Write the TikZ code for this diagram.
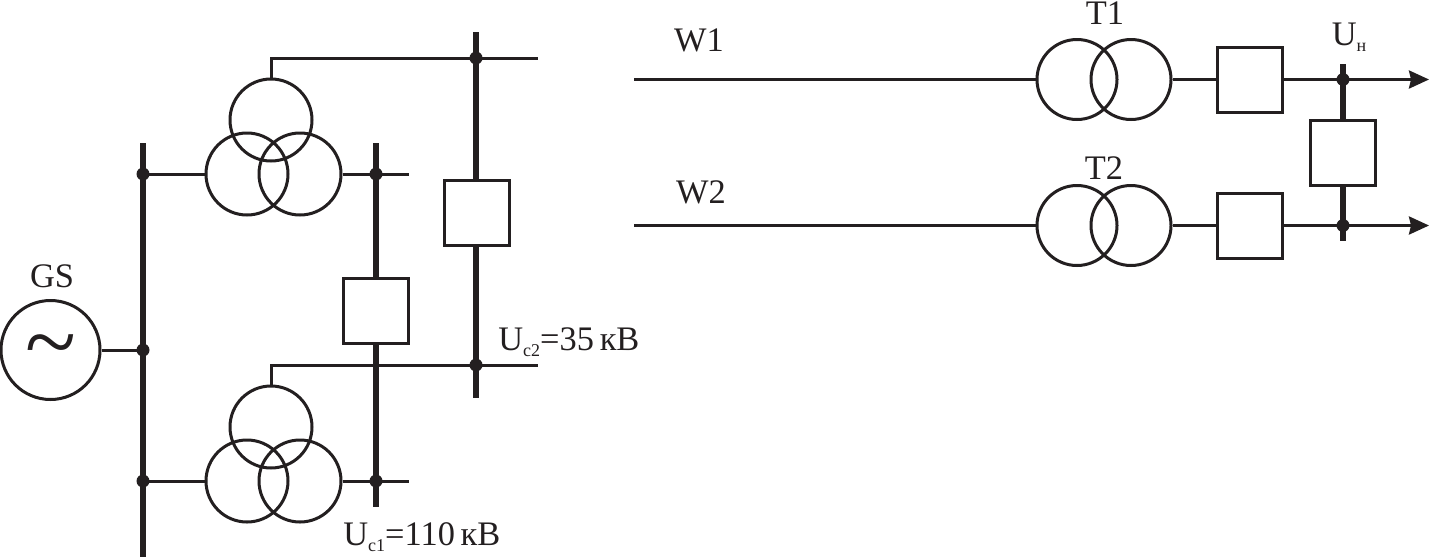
\documentclass[tikz,border=0pt]{standalone}
\usepackage{fontspec}
\setmainfont{Liberation Serif}
\usetikzlibrary{arrows.meta}
\definecolor{ink}{HTML}{231F20}
\tikzset{
  wire/.style={line width=1.5pt,color=ink},
  bus/.style={line width=3pt,color=ink},
  winding/.style={circle,draw=ink,line width=1.5pt,minimum size=41pt,inner sep=0pt},
  genbox/.style={circle,draw=ink,line width=1.5pt,minimum size=49.5pt,inner sep=0pt,text=ink,font=\fontsize{47}{47}\selectfont},
  brk/.style={rectangle,draw=ink,line width=1.5pt,minimum size=32.5pt,inner sep=0pt},
  jn/.style={circle,fill=ink,minimum size=6.5pt,inner sep=0pt},
  lbl/.style={anchor=base,font=\fontsize{17.2}{19}\selectfont,text=ink,inner sep=0pt},
  lblw/.style={lbl,anchor=base west},
  arr/.style={wire,-{Stealth[length=10pt,width=9pt,inset=1pt]}},
  x=0.5pt,y=-0.5pt
}
\newcommand{\sbs}[1]{\raisebox{-3.3pt}{\fontsize{9}{9}\selectfont #1}}
\begin{document}
\begin{tikzpicture}
\useasboundingbox (0,0) rectangle (1429,558);
% left side
\node[genbox] (gen) at (50.5,350) {\raisebox{-11.7pt}[0pt][0pt]{\char"7E}};
\node[winding] (ta) at (271,120) {};
\node[winding] (tb) at (247,174) {};
\node[winding] (tc) at (300,174) {};
\node[winding] (ba) at (271,427) {};
\node[winding] (bb) at (247,481) {};
\node[winding] (bc) at (300,481) {};
\node[brk] (q1) at (376,311) {};
\node[brk] (q2) at (477,213) {};
\foreach \n/\x/\y in {j1/143/174,j2/143/350,j3/143/481,j4/376/174,j5/376/481,j6/476/58,j7/476/365}
  \node[jn] (\n) at (\x,\y) {};
\coordinate (b1t) at (143,143);
\coordinate (b1b) at (143,557);
\coordinate (b2t) at (376,143);
\coordinate (b2b) at (376,507);
\coordinate (b3t) at (476,32);
\coordinate (b3b) at (476,398);
\coordinate (e1) at (409,174);
\coordinate (e2) at (409,481);
\coordinate (e3) at (538,58);
\coordinate (e4) at (538,365);
\draw[bus] (b1t) -- (b1b);
\draw[bus] (b2t) -- (q1.north -| b2t);
\draw[bus] (q1.south -| b2b) -- (b2b);
\draw[bus] (b3t) -- (q2.north -| b3t);
\draw[bus] (q2.south -| b3b) -- (b3b);
\draw[wire] (gen.east) -- (j2.center);
\draw[wire] (j1.center) -- (tb.west);
\draw[wire] (tc.east) -- (e1);
\draw[wire] (j3.center) -- (bb.west);
\draw[wire] (bc.east) -- (e2);
\draw[wire] (ta.north) |- (e3);
\draw[wire] (ba.north) |- (e4);
\node[lbl] (gs) at (52,287) {GS};
\node[lblw] (uc2) at (498,350) {U\sbs{c2}=35\,кВ};
\node[lblw] (uc1) at (343,545) {U\sbs{c1}=110\,кВ};
% right side
\node[winding,minimum size=40pt] (t1a) at (1077,79.5) {};
\node[winding,minimum size=40pt] (t1b) at (1131,79.5) {};
\node[winding,minimum size=40pt] (t2a) at (1077,225.5) {};
\node[winding,minimum size=40pt] (t2b) at (1131,225.5) {};
\node[brk] (q3) at (1250,79.5) {};
\node[brk] (q4) at (1250,225.5) {};
\node[brk] (q5) at (1343,153) {};
\node[jn] (j8) at (1343,79.5) {};
\node[jn] (j9) at (1343,225.5) {};
\coordinate (w1) at (634,79.5);
\coordinate (w2) at (634,225.5);
\coordinate (a1) at (1429,79.5);
\coordinate (a2) at (1429,225.5);
\coordinate (b4t) at (1343,64);
\coordinate (b4b) at (1343,241);
\draw[wire] (w1) -- (t1a.west);
\draw[wire] (w2) -- (t2a.west);
\draw[wire] (t1b.east) -- (q3.west);
\draw[wire] (t2b.east) -- (q4.west);
\draw[wire] (q3.east) -- (j8.center);
\draw[wire] (q4.east) -- (j9.center);
\draw[arr] (j8.center) -- (a1);
\draw[arr] (j9.center) -- (a2);
\draw[bus] (b4t) -- (q5.north);
\draw[bus] (q5.south) -- (b4b);
\node[lbl] (w1l) at (699,51) {W1};
\node[lbl] (w2l) at (701,203) {W2};
\node[lbl] (t1l) at (1105,24) {T1};
\node[lbl] (t2l) at (1104,179) {T2};
\node[lbl] (un) at (1349,45) {U\sbs{н}};
\end{tikzpicture}
\end{document}
